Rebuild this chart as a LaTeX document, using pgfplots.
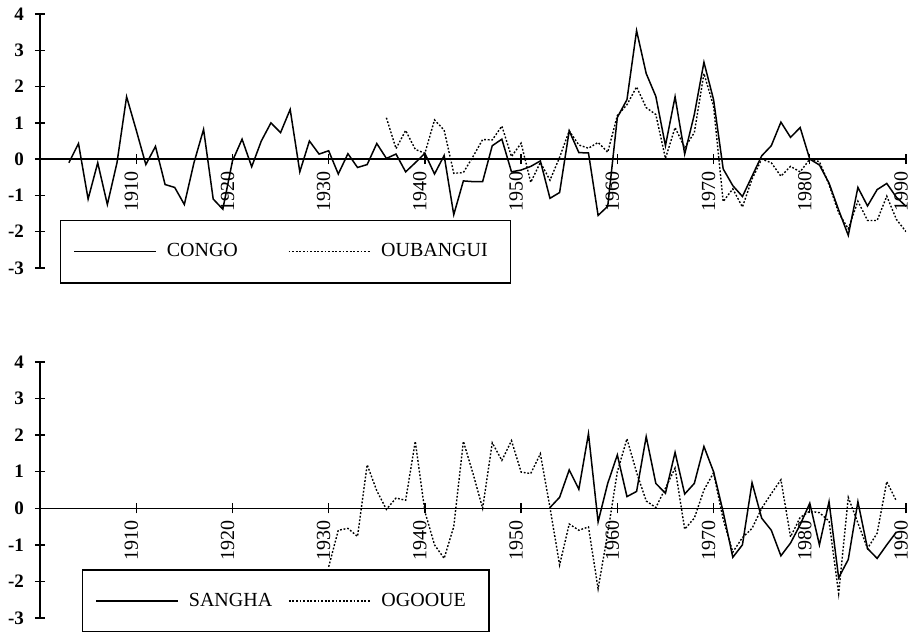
\documentclass[border=0pt]{standalone}
\usepackage{fontspec}
\setmainfont{Liberation Serif}
\usepackage{pgfplots}
\pgfplotsset{compat=1.18}

\pgfplotstableread{
year val
1903 -0.1
1904 0.43
1905 -1.1
1906 -0.1
1907 -1.25
1908 -0.1
1909 1.72
1910 0.8
1911 -0.15
1912 0.35
1913 -0.7
1914 -0.78
1915 -1.25
1916 -0.1
1917 0.82
1918 -1.1
1919 -1.38
1920 -0.05
1921 0.55
1922 -0.21
1923 0.5
1924 1.0
1925 0.73
1926 1.37
1927 -0.35
1928 0.5
1929 0.14
1930 0.23
1931 -0.41
1932 0.15
1933 -0.23
1934 -0.15
1935 0.43
1936 0.02
1937 0.14
1938 -0.35
1939 -0.1
1940 0.16
1941 -0.41
1942 0.1
1943 -1.53
1944 -0.6
1945 -0.62
1946 -0.62
1947 0.37
1948 0.55
1949 -0.35
1950 -0.3
1951 -0.2
1952 -0.05
1953 -1.08
1954 -0.92
1955 0.78
1956 0.18
1957 0.17
1958 -1.55
1959 -1.3
1960 1.15
1961 1.64
1962 3.54
1963 2.36
1964 1.73
1965 0.37
1966 1.72
1967 0.14
1968 1.23
1969 2.67
1970 1.64
1971 -0.27
1972 -0.73
1973 -1.03
1974 -0.47
1975 0.09
1976 0.37
1977 1.02
1978 0.6
1979 0.87
1980 0.0
1981 -0.16
1982 -0.66
1983 -1.4
1984 -2.1
1985 -0.78
1986 -1.29
1987 -0.84
1988 -0.67
1989 -1.05
1990 -1.3
}\congo

\pgfplotstableread{
year val
1936 1.14
1937 0.29
1938 0.79
1939 0.27
1940 0.16
1941 1.08
1942 0.8
1943 -0.39
1944 -0.37
1945 0.07
1946 0.54
1947 0.53
1948 0.91
1949 0.07
1950 0.44
1951 -0.64
1952 -0.09
1953 -0.58
1954 0.05
1955 0.78
1956 0.39
1957 0.3
1958 0.46
1959 0.19
1960 1.2
1961 1.5
1962 1.99
1963 1.42
1964 1.23
1965 0.02
1966 0.87
1967 0.32
1968 0.73
1969 2.36
1970 1.46
1971 -1.17
1972 -0.82
1973 -1.32
1974 -0.55
1975 0.0
1976 -0.1
1977 -0.47
1978 -0.2
1979 -0.35
1980 0.0
1981 -0.07
1982 -0.7
1983 -1.48
1984 -1.92
1985 -1.16
1986 -1.69
1987 -1.69
1988 -1.02
1989 -1.66
1990 -2.0
}\oubangui

\pgfplotstableread{
year val
1953 0.02
1954 0.3
1955 1.05
1956 0.52
1957 2.04
1958 -0.37
1959 0.68
1960 1.46
1961 0.32
1962 0.46
1963 1.96
1964 0.68
1965 0.41
1966 1.53
1967 0.39
1968 0.68
1969 1.69
1970 1.0
1971 -0.1
1972 -1.34
1973 -1.0
1974 0.7
1975 -0.27
1976 -0.6
1977 -1.3
1978 -0.95
1979 -0.45
1980 0.14
1981 -1.0
1982 0.18
1983 -1.9
1984 -1.4
1985 0.18
1986 -1.1
1987 -1.37
1988 -1.0
1989 -0.65
}\sangha

\pgfplotstableread{
year val
1930 -1.6
1931 -0.6
1932 -0.55
1933 -0.77
1934 1.19
1935 0.48
1936 -0.03
1937 0.28
1938 0.22
1939 1.83
1940 -0.09
1941 -1.0
1942 -1.37
1943 -0.5
1944 1.83
1945 0.95
1946 0.0
1947 1.79
1948 1.31
1949 1.85
1950 0.99
1951 0.95
1952 1.49
1953 0.02
1954 -1.55
1955 -0.43
1956 -0.6
1957 -0.51
1958 -2.2
1959 -0.68
1960 1.0
1961 1.9
1962 0.98
1963 0.2
1964 0.02
1965 0.55
1966 1.1
1967 -0.57
1968 -0.27
1969 0.5
1970 0.97
1971 -0.3
1972 -1.2
1973 -0.8
1974 -0.55
1975 0.0
1976 0.4
1977 0.78
1978 -0.78
1979 -0.25
1980 -0.08
1981 -0.12
1982 -0.35
1983 -2.33
1984 0.3
1985 -0.4
1986 -1.1
1987 -0.68
1988 0.73
1989 0.2
}\ogooue

\pgfplotsset{
  panel/.style={
    scale only axis, width=433pt,
    xmin=1900, xmax=1990, ymin=-3, ymax=4,
    axis x line=middle, axis y line=left,
    axis line style={-, line width=0.7pt, black},
    hide obscured x ticks=false, hide obscured y ticks=false,
    xtick={1910,1920,1930,1940,1950,1960,1970,1980,1990},
    xticklabels={1910,1920,1930,1940,1950,1960,1970,1980,1990},
    ytick={-3,-2,-1,0,1,2,3,4},
    yticklabels={-3,-2,-1,0,1,2,3,4},
    tick align=center, major tick length=5pt,
    tick style={line width=0.7pt, black},
    xticklabel style={rotate=90, anchor=east, font=\fontsize{10}{10}\selectfont, yshift=2.5pt},
    yticklabel style={font=\bfseries\fontsize{9.5}{9.5}\selectfont, xshift=-2pt},
    legend columns=2,
    legend cell align=left,
    legend style={at={(0.023,0.189)}, anchor=north west, draw=black, line width=0.7pt,
      inner xsep=6.5pt, inner ysep=9pt,
      font=\fontsize{10}{10}\selectfont,
      nodes={inner ysep=2.5pt, inner xsep=5pt},
      /tikz/every even column/.append style={column sep=20pt}},
    legend image code/.code={\draw[#1, line width=0.6pt] (0pt,0pt) -- (41pt,0pt);},
  },
  solidser/.style={black, line width=0.75pt},
  dotser/.style={black, line width=0.7pt, dash pattern=on 0.9pt off 0.9pt},
}

\begin{document}
\begin{tikzpicture}
\useasboundingbox (0,0) rectangle (454.5pt,315.5pt);
\begin{axis}[panel, height=127pt, at={(20pt,181.5pt)}, anchor=south west]
  \addplot[solidser] table[x=year,y=val] {\congo};
  \addlegendentry{CONGO}
  \addplot[dotser] table[x=year,y=val] {\oubangui};
  \addlegendentry{OUBANGUI}
\end{axis}
\begin{axis}[panel, height=128pt, at={(20pt,6.5pt)}, anchor=south west,
  legend style={at={(0.0485,0.191)},
    /tikz/every even column/.append style={column sep=3pt}}]
  \addplot[solidser] table[x=year,y=val] {\sangha};
  \addlegendentry{SANGHA}
  \addplot[dotser] table[x=year,y=val] {\ogooue};
  \addlegendentry{OGOOUE}
\end{axis}
\end{tikzpicture}
\end{document}
